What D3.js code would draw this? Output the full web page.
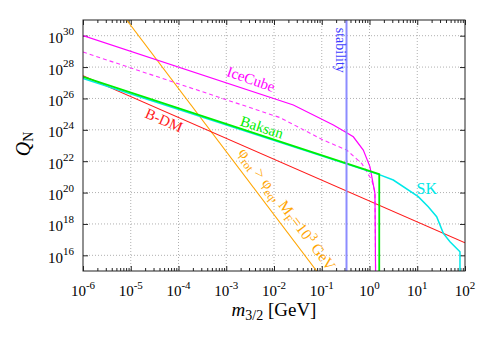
<!DOCTYPE html>
<html>
<head>
<meta charset="utf-8">
<script src="https://cdn.jsdelivr.net/npm/d3@7"></script>
<style>
body { margin: 0; background: #fff; }
text { font-family: "Liberation Serif", "Times New Roman", serif; }
</style>
</head>
<body>
<svg id="chart"></svg>
<script>
const width = 491;
const height = 343;
const margin = {top: 20, right: 26, bottom: 72, left: 83};

// [m_3/2 in GeV, Q_N]
const icecubeSolid = [[1e-6, 1e30], [0.0254, 3.8e25], [0.175, 2.04e24], [0.307, 7.6e23],
    [0.458, 3.6e23], [0.741, 5.1e22], [1.02, 4.5e21], [1.30, 8.9e19], [1.34, 1e15]];
const icecubeDashed = [[1e-6, 9.1e28], [0.0134, 6.0e24], [0.108, 2.2e23], [0.333, 5.1e22],
    [0.687, 7.2e21], [1.11, 6.3e20], [1.30, 1.1e20], [1.34, 1e15]];
const baksan = [[1e-6, 2.4e27], [1.6, 1.5e21], [1.6, 1e15]];
const sk = [[1e-6, 1.9e27], [1.6, 1.4e21], [3.15, 6.3e20], [10.5, 5.5e19], [17.0, 1.26e19],
    [25.5, 2.9e18], [35.2, 2.5e17], [48.5, 7.4e16], [78.5, 1.7e16], [78.5, 1e15]];
const bdm = [[1e-6, 2.8e27], [100, 6.3e16]];
const phiRot = [[8.2e-6, 1e31], [0.0783, 1e15]];
const stabilityMass = 0.33;

// tick exponents
const xExponents = [-6, -5, -4, -3, -2, -1, 0, 1, 2];
const yExponents = [16, 18, 20, 22, 24, 26, 28, 30];

const innerW = width - margin.left - margin.right;
const innerH = height - margin.top - margin.bottom;

const svg = d3.select("#chart")
    .attr("width", width)
    .attr("height", height);

const x = d3.scaleLog().domain([1e-6, 1e2]).range([0, innerW]);
const y = d3.scaleLog().domain([1e15, 1e31]).range([innerH, 0]);

const g = svg.append("g")
    .attr("transform", `translate(${margin.left},${margin.top})`);

g.append("clipPath").attr("id", "clip")
    .append("rect").attr("width", innerW).attr("height", innerH);

// grid
const gridX = xExponents.slice(1, -1).map(e => Math.pow(10, e));
const gridY = yExponents.map(e => Math.pow(10, e));
g.selectAll(".gx").data(gridX).enter().append("line")
    .attr("x1", d => x(d)).attr("x2", d => x(d))
    .attr("y1", 0).attr("y2", innerH)
    .style("stroke", "#b0b0b0").style("stroke-dasharray", "1,2").style("stroke-width", 1);
g.selectAll(".gy").data(gridY).enter().append("line")
    .attr("y1", d => y(d)).attr("y2", d => y(d))
    .attr("x1", 0).attr("x2", innerW)
    .style("stroke", "#b0b0b0").style("stroke-dasharray", "1,2").style("stroke-width", 1);

// ticks
const majorX = xExponents.map(e => Math.pow(10, e));
const minorX = [];
xExponents.slice(0, -1).forEach(e => {
    for (let k = 2; k <= 9; k++) minorX.push(k * Math.pow(10, e));
});

function tickAxis(axis, transform) {
    const a = g.append("g").attr("transform", transform).call(axis);
    a.select(".domain").remove();
    a.selectAll("line").style("stroke", "#222");
}
tickAxis(d3.axisBottom(x).tickValues(majorX).tickSize(-5).tickFormat(""), `translate(0,${innerH})`);
tickAxis(d3.axisBottom(x).tickValues(minorX).tickSize(-3).tickFormat(""), `translate(0,${innerH})`);
tickAxis(d3.axisTop(x).tickValues(majorX).tickSize(-5).tickFormat(""), "translate(0,0)");
tickAxis(d3.axisTop(x).tickValues(minorX).tickSize(-3).tickFormat(""), "translate(0,0)");
tickAxis(d3.axisLeft(y).tickValues(gridY).tickSize(-5).tickFormat(""), "translate(0,0)");
tickAxis(d3.axisRight(y).tickValues(gridY).tickSize(-5).tickFormat(""), `translate(${innerW},0)`);

// tick labels
const xLab = g.selectAll(".xl").data(xExponents).enter().append("text")
    .attr("x", d => x(Math.pow(10, d)))
    .attr("y", innerH + 25)
    .attr("text-anchor", "middle")
    .style("font-size", "15px");
xLab.append("tspan").text("10");
xLab.append("tspan").attr("dy", -7).style("font-size", "11px").text(d => d);

const yLab = g.selectAll(".yl").data(yExponents).enter().append("text")
    .attr("x", -9)
    .attr("y", d => y(Math.pow(10, d)) + 7.5)
    .attr("text-anchor", "end")
    .style("font-size", "15px");
yLab.append("tspan").text("10");
yLab.append("tspan").attr("dy", -8).style("font-size", "11px").text(d => d);

// curves
const line = d3.line().x(d => x(d[0])).y(d => y(d[1]));
const plot = g.append("g").attr("clip-path", "url(#clip)");

function curve(data, color, w, dash) {
    plot.append("path").datum(data)
        .attr("d", line)
        .style("fill", "none")
        .style("stroke", color)
        .style("stroke-width", w)
        .style("stroke-dasharray", dash || null);
}
curve(phiRot, "#ffa500", 1.1);
curve(bdm, "#ff1a1a", 1.1);
curve(icecubeDashed, "#ff33ff", 1.1, "4,3");
curve(icecubeSolid, "#ff00ff", 1.2);
curve(sk, "#00e8e8", 1.5);
curve(baksan, "#00ee00", 1.8);

plot.append("line")
    .attr("x1", x(stabilityMass)).attr("x2", x(stabilityMass))
    .attr("y1", 0).attr("y2", innerH)
    .style("stroke", "#8c8cff").style("stroke-width", 2);

// frame
g.append("rect").attr("width", innerW).attr("height", innerH)
    .style("fill", "none").style("stroke", "#222").style("stroke-width", 1);

// angle of a power-law line on screen
function angleOf(data) {
    const [a, b] = data;
    return Math.atan2(y(b[1]) - y(a[1]), x(b[0]) - x(a[0])) * 180 / Math.PI;
}

function label(txt, m, q, angle, color, size) {
    return g.append("text")
        .attr("transform", `translate(${x(m)},${y(q)}) rotate(${angle})`)
        .attr("text-anchor", "middle")
        .attr("dy", "0.35em")
        .style("fill", color)
        .style("font-size", size + "px")
        .text(txt);
}
label("IceCube", 3.3e-3, 1.74e27, angleOf(icecubeSolid) + 1, "#ff00ff", 15);
label("Baksan", 5.6e-3, 1.5e24, angleOf(baksan), "#00ee00", 15);
label("B-DM", 5.0e-5, 4.2e24, angleOf(bdm), "#ff1a1a", 15);
label("SK", 15.8, 1.95e20, 0, "#00e8e8", 16);

g.append("text")
    .attr("transform", `translate(${x(stabilityMass) - 11},${y(1e30) - 8}) rotate(90)`)
    .style("fill", "#3c3cff")
    .style("font-size", "14px")
    .text("stability");

// phi_rot label along the orange line
const orange = g.append("text")
    .attr("transform", `translate(${x(1.3e-3)},${y(1.7e22)}) rotate(${angleOf(phiRot)})`)
    .attr("dy", -8)
    .style("fill", "#ffa500")
    .style("font-size", "15.5px");
orange.append("tspan").text("\u03c6");
orange.append("tspan").attr("dy", 4).style("font-size", "11.5px").text("rot");
orange.append("tspan").attr("dy", -4).text(" > \u03c6");
orange.append("tspan").attr("dy", 4).style("font-size", "11.5px").text("eq");
orange.append("tspan").attr("dy", -4).text(", M");
orange.append("tspan").attr("dy", 4).style("font-size", "11.5px").text("F");
orange.append("tspan").attr("dy", -4).text("=10");
orange.append("tspan").attr("dy", -6).style("font-size", "11.5px").text("3");
orange.append("tspan").attr("dy", 6).text(" GeV");

// axis titles
const xt = svg.append("text")
    .attr("x", margin.left + innerW / 2)
    .attr("y", 316)
    .attr("text-anchor", "middle")
    .style("font-size", "19px");
xt.append("tspan").style("font-style", "italic").text("m");
xt.append("tspan").attr("dy", 4).style("font-size", "14px").text("3/2");
xt.append("tspan").attr("dy", -4).text(" [GeV]");

const yt = svg.append("text")
    .attr("transform", "translate(30,144) rotate(-90)")
    .attr("text-anchor", "middle")
    .style("font-size", "20px");
yt.append("tspan").style("font-style", "italic").text("Q");
yt.append("tspan").attr("dy", 3).style("font-size", "14px").text("N");
</script>
</body>
</html>
